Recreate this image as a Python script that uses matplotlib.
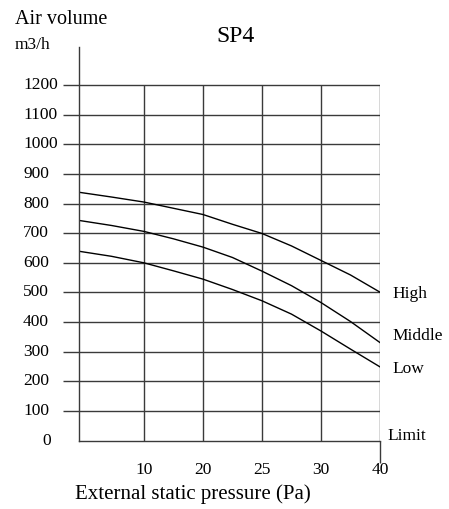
import numpy as np
import matplotlib
matplotlib.use('Agg')
import matplotlib.pyplot as plt

# values (pressure in Pa, air volume in m3/h)
pressure = [0, 5, 10, 15, 20, 22.5, 25, 27.5, 30, 35, 40]
high = [838, 822, 805, 784, 763, 730, 699, 657, 608, 559, 501]
middle = [743, 726, 706, 681, 653, 618, 572, 523, 466, 402, 331]
low = [639, 622, 600, 573, 545, 510, 472, 427, 370, 309, 249]

x_ticks = [10, 20, 25, 30, 40]
y_ticks = list(range(0, 1300, 100))

# grid columns are equal width whatever the pressure step (first one a bit wider)
scale_p = [0, 10, 20, 25, 30, 40]
scale_pos = [0, 1.1, 2.1, 3.1, 4.1, 5.1]

def fwd(x):
    return np.interp(x, scale_p, scale_pos)

def inv(x):
    return np.interp(x, scale_pos, scale_p)

plt.rcParams['font.family'] = ['Liberation Serif', 'DejaVu Serif']
gc = '#3a3a3a'

W, H = 449, 509
fig = plt.figure(figsize=(W / 100, H / 100), dpi=100)
ax = fig.add_axes([79 / W, 1 - 440.7 / H, 301 / W, (440.7 - 47) / H])
ax.set_xscale('function', functions=(fwd, inv))
ax.set_xlim(0, 40)
ax.set_ylim(0, 1328)

ax.hlines(y_ticks[1:], 0, 40, color=gc, lw=1)
ax.vlines(x_ticks, 0, 1200, color=gc, lw=1)

for series in (high, middle, low):
    ax.plot(pressure, series, color='black', lw=1)

for s in ('top', 'right'):
    ax.spines[s].set_visible(False)
for s in ('left', 'bottom'):
    ax.spines[s].set_color(gc)
    ax.spines[s].set_linewidth(1)

ax.set_yticks(y_ticks)
ax.tick_params(axis='y', length=11.5, width=1, color=gc, labelleft=False)
ax.yaxis.get_major_ticks()[0].tick1line.set_visible(False)

ax.set_xticks(x_ticks)
ax.set_xticklabels([str(t) for t in x_ticks])
ax.tick_params(axis='x', length=16, width=1, color=gc, pad=-1, labelsize=12.5)
for t in ax.xaxis.get_major_ticks()[:-1]:
    t.tick1line.set_visible(False)

ytrans = ax.get_yaxis_transform()
for v in y_ticks:
    ax.text(-0.186 if v else -0.123, v, str(v), transform=ytrans,
            ha='left', va='center', fontsize=12.5)

# curve names on the right
ax.text(1.04, 495, 'High', transform=ytrans, ha='left', va='center', fontsize=12.5)
ax.text(1.04, 353, 'Middle', transform=ytrans, ha='left', va='center', fontsize=12.5)
ax.text(1.04, 242, 'Low', transform=ytrans, ha='left', va='center', fontsize=12.5)
ax.text(1.025, 16, 'Limit', transform=ytrans, ha='left', va='center', fontsize=12.5)

fig.text(235 / W, 1 - 37 / H, 'SP4', ha='center', va='center', fontsize=17)
fig.text(15 / W, 1 - 20 / H, 'Air volume', ha='left', va='center', fontsize=14.5)
fig.text(15 / W, 1 - 45 / H, 'm3/h', ha='left', va='center', fontsize=12.5)
fig.text(75 / W, 1 - 494 / H, 'External static pressure (Pa)', ha='left', va='center', fontsize=15)

fig.savefig('out.png', dpi=100)
